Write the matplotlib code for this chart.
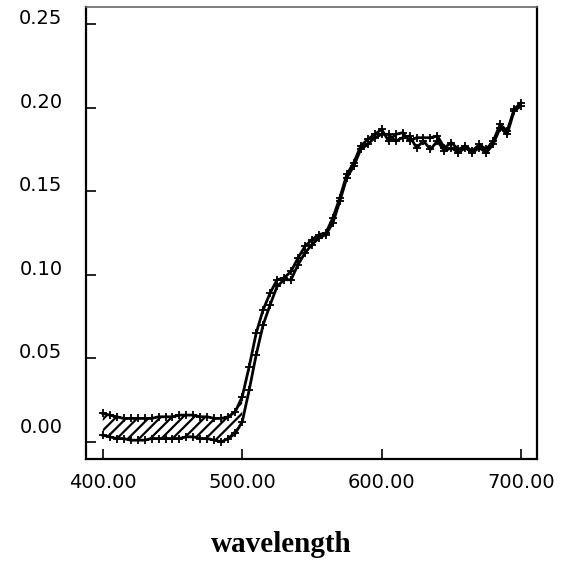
import matplotlib
matplotlib.use('Agg')
import matplotlib.pyplot as plt
import matplotlib.transforms as mtransforms
import numpy as np

# wavelength grid, 5 nm steps
wavelength = np.arange(400, 701, 5)

upper = [0.017, 0.016, 0.015, 0.014, 0.014, 0.014, 0.014, 0.014, 0.015, 0.015,
         0.015, 0.016, 0.016, 0.016, 0.015, 0.015, 0.014, 0.014, 0.015, 0.018,
         0.027, 0.045, 0.065, 0.079, 0.089, 0.097, 0.098, 0.102, 0.110, 0.117,
         0.121, 0.124, 0.125, 0.134, 0.146, 0.160, 0.167, 0.177, 0.181, 0.184,
         0.187, 0.180, 0.184, 0.185, 0.180, 0.182, 0.182, 0.182, 0.183, 0.176,
         0.179, 0.175, 0.177, 0.174, 0.178, 0.175, 0.180, 0.190, 0.186, 0.199,
         0.203]

lower = [0.004, 0.003, 0.002, 0.002, 0.001, 0.001, 0.001, 0.002, 0.002, 0.002,
         0.002, 0.002, 0.003, 0.003, 0.002, 0.002, 0.001, 0.000, 0.002, 0.005,
         0.012, 0.031, 0.052, 0.070, 0.082, 0.093, 0.097, 0.097, 0.106, 0.113,
         0.118, 0.122, 0.124, 0.131, 0.144, 0.158, 0.165, 0.175, 0.178, 0.182,
         0.184, 0.184, 0.180, 0.182, 0.183, 0.176, 0.180, 0.175, 0.180, 0.174,
         0.176, 0.173, 0.176, 0.173, 0.176, 0.173, 0.178, 0.188, 0.184, 0.198,
         0.201]

xticks = [400, 500, 600, 700]
yticks = [0.00, 0.05, 0.10, 0.15, 0.20, 0.25]
hatch_end = 500

plt.rcParams['hatch.linewidth'] = 1.6

fig = plt.figure(figsize=(5.66, 5.61), dpi=100)
ax = fig.add_axes([0.152, 0.182, 0.797, 0.8055])

w = np.array(wavelength)
up = np.array(upper)
lo = np.array(lower)

ax.fill_between(w, lo, up, where=w <= hatch_end, facecolor='none',
                edgecolor='black', hatch='///', linewidth=0)
ax.plot(w, up, color='black', lw=2.0, marker='+', ms=5.5, mew=1.3)
ax.plot(w, lo, color='black', lw=2.0, marker='+', ms=5.5, mew=1.3)

ax.set_xlim(388, 711.5)
ax.set_ylim(-0.0102, 0.2602)

ax.set_xticks(xticks)
ax.set_xticklabels(['{:.2f}'.format(v) for v in xticks])
ax.set_yticks(yticks)
ax.set_yticklabels(['{:.2f}'.format(v) for v in yticks])

ax.tick_params(direction='in', length=7, width=1.2, labelsize=14)
ax.tick_params(axis='x', pad=10)
ax.tick_params(axis='y', pad=17)
for lab in ax.get_yticklabels():
    lab.set_verticalalignment('baseline')

for side in ['left', 'bottom', 'right']:
    ax.spines[side].set_linewidth(1.6)
ax.spines['top'].set_linewidth(1.2)
ax.spines['top'].set_color('#666666')

# lift the 0.00 label off the x axis
ticks = ax.yaxis.get_major_ticks()
off = mtransforms.ScaledTranslation(0, 0.09, fig.dpi_scale_trans)
ticks[0].label1.set_transform(ticks[0].label1.get_transform() + off)

fig.text(281 / 566, 1 - 552 / 561, 'wavelength', ha='center', va='baseline',
         fontsize=21, fontweight='bold', family='Liberation Serif')

fig.savefig('out.png', dpi=100)
